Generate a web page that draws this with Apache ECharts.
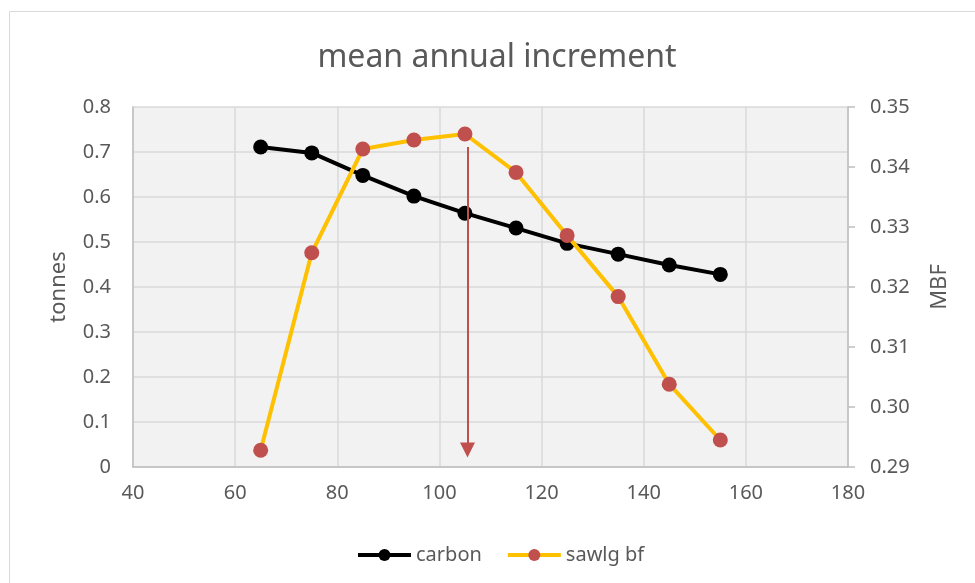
<!DOCTYPE html>
<html>
<head>
<meta charset="utf-8">
<script src="https://cdn.jsdelivr.net/npm/echarts@6/dist/echarts.min.js"></script>
<style>html,body{margin:0;padding:0;background:#fff;}#c{width:975px;height:583px;}</style>
</head>
<body>
<div id="c"></div>
<script>
const ages = [65, 75, 85, 95, 105, 115, 125, 135, 145, 155];
const carbon = [0.711, 0.698, 0.648, 0.602, 0.564, 0.531, 0.497, 0.473, 0.449, 0.428];
const sawlgBf = [0.2928, 0.3257, 0.3430, 0.3445, 0.3455, 0.3391, 0.3286, 0.3184, 0.3038, 0.2945];
const arrowX = 105.5;
const arrowFrom = 0.711;
const arrowTo = 0.038;

const FONT = 'Noto Sans';
const GREY = '#595959';
const chart = echarts.init(document.getElementById('c'), null, {renderer: 'canvas'});
chart.setOption({
  backgroundColor: '#ffffff',
  animation: false,
  textStyle: {fontFamily: FONT},
  graphic: [{
    type: 'rect', left: 7, top: 9, z: -10,
    shape: {width: 1000, height: 1000},
    style: {fill: 'none', stroke: '#d9d9d9', lineWidth: 1}
  }],
  title: {
    text: 'mean annual increment',
    left: 492, top: 37, textAlign: 'center',
    textStyle: {fontFamily: FONT, fontSize: 32, fontWeight: 'normal', color: GREY}
  },
  legend: {
    left: 351, top: 540,
    itemWidth: 53, itemHeight: 15, itemGap: 24,
    lineStyle: {width: 4},
    textStyle: {fontFamily: FONT, fontSize: 20, color: GREY},
    data: ['carbon', 'sawlg bf']
  },
  grid: {
    left: 133, right: 127, top: 107, bottom: 116,
    show: true, backgroundColor: '#f2f2f2', borderWidth: 0
  },
  xAxis: {
    type: 'value', min: 40, max: 180, interval: 20,
    axisLine: {show: true, lineStyle: {color: '#bfbfbf', width: 1.5}},
    axisTick: {show: false},
    axisLabel: {fontFamily: FONT, fontSize: 20, color: GREY, margin: 16},
    splitLine: {show: true, lineStyle: {color: '#d9d9d9', width: 1.5}}
  },
  yAxis: [{
    type: 'value', min: 0, max: 0.8, interval: 0.1,
    name: 'tonnes', nameLocation: 'middle', nameGap: 63,
    nameTextStyle: {fontFamily: FONT, fontSize: 22, color: GREY},
    axisLine: {show: true, lineStyle: {color: '#bfbfbf', width: 1.5}},
    axisTick: {show: false},
    axisLabel: {fontFamily: FONT, fontSize: 20, color: GREY, margin: 22,
      formatter: v => (v === 0 ? '0' : v.toFixed(1))},
    splitLine: {show: true, lineStyle: {color: '#d9d9d9', width: 1.5}}
  }, {
    type: 'value', min: 0.29, max: 0.35, interval: 0.01, position: 'right',
    name: 'MBF', nameLocation: 'middle', nameGap: 81, nameRotate: 90,
    nameTextStyle: {fontFamily: FONT, fontSize: 22, color: GREY},
    axisLine: {show: true, lineStyle: {color: '#bfbfbf', width: 1.5}},
    axisTick: {show: true, length: 7, inside: false, lineStyle: {color: '#bfbfbf', width: 1.5}},
    axisLabel: {fontFamily: FONT, fontSize: 20, color: GREY, margin: 22,
      formatter: v => v.toFixed(2)},
    splitLine: {show: false}
  }],
  series: [{
    name: 'carbon', type: 'line', yAxisIndex: 0,
    data: ages.map((a, i) => [a, carbon[i]]),
    symbol: 'circle', symbolSize: 15,
    lineStyle: {color: '#000000', width: 4},
    itemStyle: {color: '#000000'},
    z: 2,
    markLine: {
      silent: true,
      symbol: ['none', 'triangle'], symbolSize: [15, 15],
      label: {show: false},
      lineStyle: {color: '#c0504d', width: 2, type: 'solid'},
      data: [[{coord: [arrowX, arrowFrom]}, {coord: [arrowX, arrowTo]}]]
    }
  }, {
    name: 'sawlg bf', type: 'line', yAxisIndex: 1,
    data: ages.map((a, i) => [a, sawlgBf[i]]),
    symbol: 'circle', symbolSize: 15,
    lineStyle: {color: '#ffc000', width: 4},
    itemStyle: {color: '#c0504d'},
    z: 3
  }]
});
</script>
</body>
</html>
